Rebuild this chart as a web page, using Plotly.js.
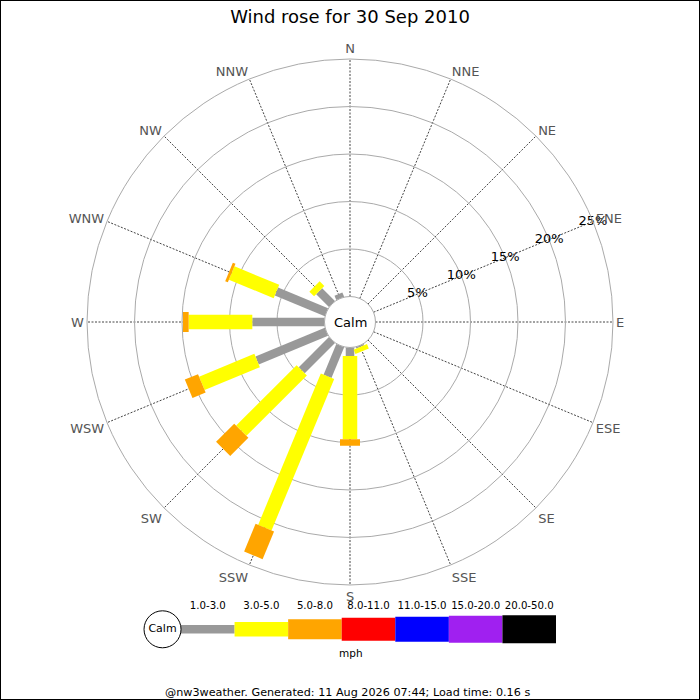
<!DOCTYPE html>
<html>
<head>
<meta charset="utf-8">
<script src="https://cdn.plot.ly/plotly-3.0.1.min.js"></script>
<style>
  html, body { margin: 0; padding: 0; background: #fff; }
  #chart { width: 700px; height: 700px; }
</style>
</head>
<body>
<div id="chart"></div>
<script>
/* Wind rose, 30 Sep 2010 — bars drawn as thick polar line segments so they keep a constant width. */

const DIRS = ['N', 'NNE', 'NE', 'ENE', 'E', 'ESE', 'SE', 'SSE',
  'S', 'SSW', 'SW', 'WSW', 'W', 'WNW', 'NW', 'NNW'];

// percent of time per speed band, per direction (segment lengths, stacked outward)
const BAND_1_3 = [0, 0, 0, 0, 0, 0, 0, 0.15, 0.9, 3.5, 4.5, 7.9, 7.6, 5.7, 1.9, 0.5];
const BAND_3_5 = [0, 0, 0, 0, 0, 0, 0, 0.5, 8.75, 17.25, 9.0, 6.3, 6.7, 5.1, 0.7, 0];
const BAND_5_8 = [0, 0, 0, 0, 0, 0, 0, 0, 0.7, 3.15, 2.7, 1.5, 0.6, 0.3, 0, 0];
const BANDS = [BAND_1_3, BAND_3_5, BAND_5_8];

const BAND_LABELS = ['1.0-3.0', '3.0-5.0', '5.0-8.0', '8.0-11.0', '11.0-15.0', '15.0-20.0', '20.0-50.0'];
const BAND_COLORS = ['#999999', '#ffff00', '#ffa500', '#ff0000', '#0000ff', '#a020f0', '#000000'];
const BAND_WIDTHS = [8.5, 14.5, 20, 23, 25, 27, 28];

const RADIAL_TICKS = [5, 10, 15, 20, 25];
const RADIAL_LABEL_DIR = 'ENE';

const FONT = 'DejaVu Sans, sans-serif';

/* ── rose segments ─────────────────────────────────────────────────────── */
const traces = [];
const base = DIRS.map(() => 0);
BANDS.forEach((band, b) => {
  const r = [], theta = [];
  band.forEach((v, i) => {
    if (v > 0) {
      r.push(base[i], base[i] + v, null);
      theta.push(DIRS[i], DIRS[i], null);
    }
    base[i] += v;
  });
  traces.push({
    type: 'scatterpolar', mode: 'lines', r, theta, connectgaps: false,
    line: { color: BAND_COLORS[b], width: BAND_WIDTHS[b] },
    hoverinfo: 'skip', showlegend: false,
  });
});

// radial tick labels sitting on the ENE spoke
traces.push({
  type: 'scatterpolar', mode: 'text',
  r: RADIAL_TICKS, theta: RADIAL_TICKS.map(() => RADIAL_LABEL_DIR),
  text: RADIAL_TICKS.map(v => v + '%'), textposition: 'middle center',
  textfont: { family: FONT, size: 13, color: '#000' },
  hoverinfo: 'skip', showlegend: false,
});

/* ── colour key under the rose ─────────────────────────────────────────── */
BAND_LABELS.forEach((lab, i) => {
  traces.push({
    type: 'scatter', mode: 'lines', x: [i, i + 1], y: [0, 0],
    xaxis: 'x', yaxis: 'y',
    line: { color: BAND_COLORS[i], width: BAND_WIDTHS[i] },
    hoverinfo: 'skip', showlegend: false,
  });
});
traces.push({
  type: 'scatter', mode: 'text',
  x: BAND_LABELS.map((_, i) => i + 0.5), y: BAND_LABELS.map(() => 0.64),
  text: BAND_LABELS, textfont: { family: FONT, size: 10.2, color: '#000' },
  cliponaxis: false, hoverinfo: 'skip', showlegend: false,
});
traces.push({
  type: 'scatter', mode: 'markers+text', x: [-0.345], y: [0], text: ['Calm'],
  textposition: 'middle center', textfont: { family: FONT, size: 11, color: '#000' },
  marker: { symbol: 'circle', size: 37, color: '#fff', line: { color: '#000', width: 1 } },
  cliponaxis: false, hoverinfo: 'skip', showlegend: false,
});

const layout = {
  width: 700, height: 700,
  margin: { l: 0, r: 0, t: 0, b: 0 },
  paper_bgcolor: '#fff', plot_bgcolor: '#fff',
  font: { family: FONT, size: 13, color: '#000' },
  showlegend: false,
  title: { text: 'Wind rose for 30 Sep 2010', x: 0.5, xanchor: 'center', y: 0.976, yanchor: 'middle',
    font: { family: FONT, size: 18, color: '#000' } },
  polar: {
    domain: { x: [0.1243, 0.8757], y: [0.1643, 0.9157] },
    hole: 25.5 / 263,
    bgcolor: '#fff',
    radialaxis: {
      range: [0, 25], tickvals: [0].concat(RADIAL_TICKS), showticklabels: false,
      ticks: '', showline: false, gridcolor: '#aaaaaa', gridwidth: 1, angle: 67.5,
    },
    angularaxis: {
      type: 'category', categoryarray: DIRS, direction: 'clockwise', rotation: 90,
      gridcolor: '#444444', griddash: '2px,1.5px', gridwidth: 1,
      showline: true, linecolor: '#aaaaaa', linewidth: 1, ticks: '',
      tickfont: { family: FONT, size: 13, color: '#555555' },
    },
  },
  xaxis: { domain: [0, 1], range: [-3.379, 9.688], visible: false, fixedrange: true },
  yaxis: { domain: [0.051, 0.151], range: [-1, 1], visible: false, fixedrange: true },
  annotations: [
    { text: 'Calm', xref: 'paper', yref: 'paper', x: 0.5, y: 0.54, yanchor: 'middle', showarrow: false,
      font: { family: FONT, size: 13, color: '#000' } },
    { text: 'mph', xref: 'paper', yref: 'paper', x: 0.501, y: 0.067, yanchor: 'middle', showarrow: false,
      font: { family: FONT, size: 10.5, color: '#000' } },
    { text: '@nw3weather. Generated: 11 Aug 2026 07:44; Load time: 0.16 s', xref: 'paper', yref: 'paper',
      x: 0.497, y: 0.011, yanchor: 'middle', showarrow: false, font: { family: FONT, size: 11.2, color: '#000' } },
  ],
  shapes: [
    { type: 'rect', xref: 'paper', yref: 'paper', x0: 0, x1: 1, y0: 0, y1: 1,
      line: { color: '#000', width: 2 } },
  ],
};

Plotly.newPlot('chart', traces, layout, { staticPlot: true });
</script>
</body>
</html>
